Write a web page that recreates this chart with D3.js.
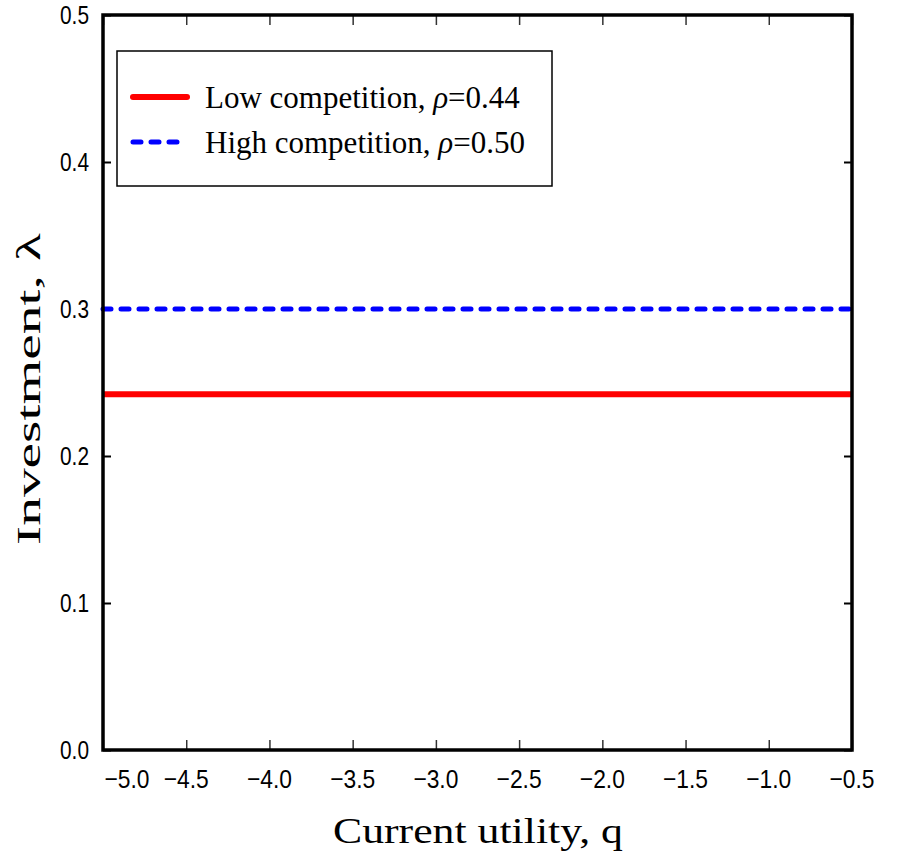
<!DOCTYPE html>
<html>
<head>
<meta charset="utf-8">
<script src="https://cdn.jsdelivr.net/npm/d3@7"></script>
<style>
  body { margin: 0; background: #fff; }
  svg { display: block; }
</style>
</head>
<body>
<svg id="chart" width="900" height="861"></svg>
<script>
// data
var xDomain = [-5.0, -0.5];
var yDomain = [0.0, 0.5];
var xTickValues = [-5.0, -4.5, -4.0, -3.5, -3.0, -2.5, -2.0, -1.5, -1.0, -0.5];
var yTickValues = [0.0, 0.1, 0.2, 0.3, 0.4, 0.5];
var seriesNames = ["Low competition, ", "High competition, "];
var seriesRho = ["0.44", "0.50"];
var seriesLevel = [0.242, 0.300];
var seriesColors = ["#ff0000", "#0000ff"];

var svg = d3.select("#chart"),
    margin = {left: 103, right: 48, top: 15, bottom: 111},
    width = +svg.attr("width"), height = +svg.attr("height");
var x = d3.scaleLinear().domain(xDomain).range([margin.left, width - margin.right]);
var y = d3.scaleLinear().domain(yDomain).range([height - margin.bottom, margin.top]);
var fmt = d3.format(".1f");
var minus = function (v) { return fmt(v).replace("-", "\u2212"); };
var serif = "Liberation Serif, DejaVu Serif, serif";

var g = svg.append("g");

// ticks on all four sides, pointing inward
g.append("g").attr("transform", "translate(0," + y(0) + ")")
  .call(d3.axisTop(x).tickValues(xTickValues).tickSize(10).tickFormat(""))
  .call(function (a) { a.select(".domain").remove(); a.selectAll("line").attr("stroke-width", 1.5).attr("stroke", "#333"); });
g.append("g").attr("transform", "translate(0," + y(0.5) + ")")
  .call(d3.axisBottom(x).tickValues(xTickValues).tickSize(10).tickFormat(""))
  .call(function (a) { a.select(".domain").remove(); a.selectAll("line").attr("stroke-width", 1.5).attr("stroke", "#333"); });
g.append("g").attr("transform", "translate(" + x(-5) + ",0)")
  .call(d3.axisRight(y).tickValues(yTickValues).tickSize(8).tickFormat(""))
  .call(function (a) { a.select(".domain").remove(); a.selectAll("line").attr("stroke-width", 2); });
g.append("g").attr("transform", "translate(" + x(-0.5) + ",0)")
  .call(d3.axisLeft(y).tickValues(yTickValues).tickSize(8).tickFormat(""))
  .call(function (a) { a.select(".domain").remove(); a.selectAll("line").attr("stroke-width", 2); });

// tick labels
g.selectAll(".xlab").data(xTickValues).enter().append("text")
  .attr("x", function (d, i) { return x(d) + (i === 0 ? 24 : 0); })
  .attr("y", 788)
  .attr("text-anchor", "middle")
  .attr("font-family", "Liberation Sans, Arial, sans-serif")
  .attr("font-size", 26)
  .attr("textLength", 45).attr("lengthAdjust", "spacingAndGlyphs")
  .text(minus);
g.selectAll(".ylab").data(yTickValues).enter().append("text")
  .attr("x", 89)
  .attr("y", function (d) { return y(d) + 9; })
  .attr("text-anchor", "end")
  .attr("font-family", "Liberation Sans, Arial, sans-serif")
  .attr("font-size", 26)
  .attr("textLength", 29).attr("lengthAdjust", "spacingAndGlyphs")
  .text(fmt);

// series (flat lines across the whole domain)
var line = d3.line().x(function (d) { return x(d[0]); }).y(function (d) { return y(d[1]); });
seriesLevel.forEach(function (v, i) {
  g.append("path")
    .datum([[xDomain[0], v], [xDomain[1], v]])
    .attr("d", line)
    .attr("fill", "none")
    .attr("stroke", seriesColors[i])
    .attr("stroke-width", i === 0 ? 6 : 5)
    .attr("stroke-linecap", i === 0 ? "butt" : "round")
    .attr("stroke-dasharray", i === 0 ? null : "8,10");
});

// frame
g.append("rect")
  .attr("x", x(-5)).attr("y", y(0.5))
  .attr("width", x(-0.5) - x(-5)).attr("height", y(0) - y(0.5))
  .attr("fill", "none").attr("stroke", "#000").attr("stroke-width", 3.5);

// legend
var lg = g.append("g");
lg.append("rect").attr("x", 117).attr("y", 51).attr("width", 435).attr("height", 135)
  .attr("fill", "#fff").attr("stroke", "#000").attr("stroke-width", 1.5);
seriesNames.forEach(function (name, i) {
  var ly = 97 + i * 45;
  lg.append("line").attr("x1", 133).attr("x2", 187).attr("y1", ly).attr("y2", ly)
    .attr("stroke", seriesColors[i]).attr("stroke-width", i === 0 ? 6 : 5)
    .attr("stroke-linecap", "round")
    .attr("stroke-dasharray", i === 0 ? null : "8,10");
  var t = lg.append("text").attr("x", 205).attr("y", ly + 11)
    .attr("font-family", serif)
    .attr("font-size", 31);
  t.append("tspan").text(name);
  t.append("tspan").attr("font-style", "italic").text("\u03c1");
  t.append("tspan").text("=" + seriesRho[i]);
});

// axis titles
g.append("text").attr("x", 478).attr("y", 843).attr("text-anchor", "middle")
  .attr("font-family", serif)
  .attr("font-size", 35)
  .attr("textLength", 290).attr("lengthAdjust", "spacingAndGlyphs")
  .text("Current utility, q");
g.append("text").attr("transform", "translate(40,389) rotate(-90)").attr("text-anchor", "middle")
  .attr("font-family", serif)
  .attr("font-size", 33)
  .attr("textLength", 312).attr("lengthAdjust", "spacingAndGlyphs")
  .text("Investment, \u03bb");
</script>
</body>
</html>
